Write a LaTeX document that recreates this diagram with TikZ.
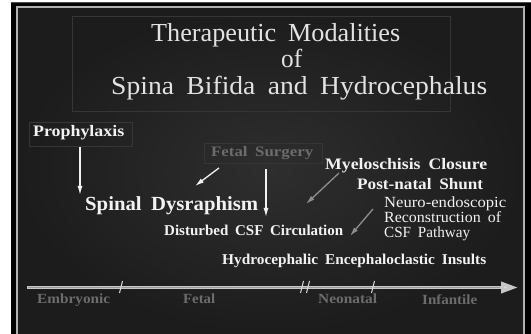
\documentclass[tikz,border=0pt]{standalone}
\usepackage{fontspec}
\usepackage{graphicx}
\setmainfont{Liberation Serif}[WordSpace=1.8]
\usetikzlibrary{arrows.meta}
\newcommand{\fitw}[2]{\resizebox{#1}{\height}{#2}}
\definecolor{slide}{HTML}{1C1C1C}
\definecolor{slidein}{HTML}{2E2E2E}
\definecolor{framec}{HTML}{B0B0B0}
\definecolor{faint}{HTML}{363636}
\definecolor{txt}{HTML}{F2F2F2}
\definecolor{ttxt}{HTML}{E2E2E2}
\definecolor{dimtxt}{HTML}{6C6C6C}
\definecolor{grayarr}{HTML}{8E8E8E}
\tikzset{
  lbl/.style={anchor=base west,inner sep=0pt,text=txt,font=\bfseries},
  ttl/.style={anchor=base west,inner sep=0pt,text=ttxt,font=\fontsize{26}{30}\selectfont},
  dim/.style={anchor=base west,inner sep=0pt,text=dimtxt,font=\fontsize{14}{17}\selectfont\bfseries},
  faintbox/.style={draw=faint,line width=0.8pt},
  warr/.style={draw=txt,line width=1.3pt,-{Latex[length=9pt,width=5pt]}},
  garr/.style={draw=grayarr,line width=1.3pt,-{Latex[length=9pt,width=5pt]}},
}
\begin{document}
\begin{tikzpicture}[x=1pt,y=-1pt]
\useasboundingbox (0,0) rectangle (531,334);
% background
\fill[black] (0,0) rectangle (531,334);
\fill[white] (0,0) rectangle (11,334);
\fill[white] (0,0) rectangle (531,2);
\shade[inner color=slidein,outer color=slide] (17,7) rectangle (524,334);
\draw[framec,line width=1.2pt] (17,334) -- (17,7) -- (524,7) -- (524,334);
\draw[gray!60!black,line width=0.6pt] (11,2.5) -- (531,2.5);
% title box
\draw[faintbox] (72,16) rectangle (450,111);
\node[ttl] (t1) at (151,42) {\fitw{249pt}{Therapeutic Modalities}};
\node[ttl] (t2) at (281,68) {\fitw{21pt}{of}};
\node[ttl] (t3) at (111,95) {\fitw{376pt}{Spina Bifida and Hydrocephalus}};
% faint boxes
\draw[faintbox] (29,122) rectangle (132,146);
\draw[faintbox] (204,143) rectangle (322,163);
% labels
\node[lbl,font=\fontsize{16}{18}\selectfont\bfseries] (pro) at (33,137) {\fitw{91pt}{Prophylaxis}};
\node[dim,font=\fontsize{14.5}{17}\selectfont\bfseries] (fs) at (211,157) {\fitw{102pt}{Fetal Surgery}};
\node[lbl,font=\fontsize{20}{23}\selectfont\bfseries] (sd) at (85,210.5) {\fitw{173pt}{Spinal Dysraphism}};
\node[lbl,font=\fontsize{15}{17}\selectfont\bfseries] (dcsf) at (164,236) {\fitw{179pt}{Disturbed CSF Circulation}};
\node[lbl,font=\fontsize{16}{19}\selectfont\bfseries] (mc) at (325,170) {\fitw{162pt}{Myeloschisis Closure}};
\node[lbl,font=\fontsize{16}{19}\selectfont\bfseries] (pns) at (357,190) {\fitw{126pt}{Post-natal Shunt}};
\node[lbl,font=\fontsize{15.5}{15}\selectfont] (ne1) at (384,208) {\fitw{122pt}{Neuro-endoscopic}};
\node[lbl,font=\fontsize{15.5}{15}\selectfont] (ne2) at (384,223) {\fitw{117pt}{Reconstruction of}};
\node[lbl,font=\fontsize{15.5}{15}\selectfont] (ne3) at (384,238) {\fitw{86pt}{CSF Pathway}};
\node[lbl,font=\fontsize{15}{18}\selectfont\bfseries] (hei) at (222,265) {\fitw{264pt}{Hydrocephalic Encephaloclastic Insults}};
% arrows
\coordinate (a1s) at (80,147);  \coordinate (a1e) at (80,195);
\coordinate (a2s) at (219,168); \coordinate (a2e) at (195,186);
\coordinate (a3s) at (266,169); \coordinate (a3e) at (266,217);
\coordinate (a4s) at (339,173); \coordinate (a4e) at (306,204);
\coordinate (a5s) at (373,209); \coordinate (a5e) at (350,236);
\draw[warr] (a1s) -- (a1e);
\draw[warr] (a2s) -- (a2e);
\draw[warr] (a3s) -- (a3e);
\draw[garr] (a4s) -- (a4e);
\draw[garr] (a5s) -- (a5e);
% timeline
\coordinate (tl0) at (27,287.5);
\coordinate (tl1) at (518,287.5);
\draw[draw=white!78!black,line width=3.6pt,-{Triangle[length=17pt,width=11pt,fill=white!92!black]}] (tl0) -- (tl1);
\draw[draw=white!60!black,line width=0.5pt] (28,287.5) -- (500,287.5);
\foreach \tx in {121,302,308,373} {
  \draw[white!85!black,line width=1pt] (\tx-1.5,293) -- (\tx+1.5,281);
}
\node[dim] (emb) at (37,304) {\fitw{73pt}{Embryonic}};
\node[dim] (fet) at (183,304) {\fitw{32pt}{Fetal}};
\node[dim] (neo) at (318,304) {\fitw{59pt}{Neonatal}};
\node[dim] (inf) at (422,305) {\fitw{55pt}{Infantile}};
\end{tikzpicture}
\end{document}
